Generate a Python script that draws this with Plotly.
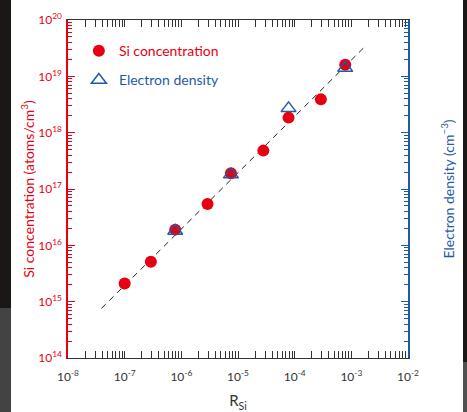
import plotly.graph_objects as go

# ---- data ----
si_x = [1.0e-7, 2.9e-7, 7.8e-7, 2.9e-6, 7.5e-6, 2.8e-5, 7.8e-5, 2.9e-4, 7.8e-4]
si_y = [2.1e15, 5.1e15, 1.9e16, 5.4e16, 1.9e17, 4.8e17, 1.85e18, 3.9e18, 1.6e19]

ne_x = [7.8e-7, 7.5e-6, 7.8e-5, 7.8e-4]
ne_y = [1.8e16, 1.8e17, 2.7e18, 1.4e19]

fit_x = [3.9e-8, 1.75e-3]
fit_y = [7.6e14, 3.4e19]

x_tickvals = [1e-8, 1e-7, 1e-6, 1e-5, 1e-4, 1e-3, 1e-2]
x_ticktext = ["10<sup>-8</sup>", "10<sup>-7</sup>", "10<sup>-6</sup>", "10<sup>-5</sup>",
              "10<sup>-4</sup>", "10<sup>-3</sup>", "10<sup>-2</sup>"]
y_tickvals = [1e14, 1e15, 1e16, 1e17, 1e18, 1e19, 1e20]
y_ticktext = ["10<sup>14</sup>", "10<sup>15</sup>", "10<sup>16</sup>", "10<sup>17</sup>",
              "10<sup>18</sup>", "10<sup>19</sup>", "10<sup>20</sup>"]

RED = "#e60012"
BLUE = "#1f5aa6"
GREY = "#333333"
FONT = "Lato"

x_minor = [k * 10.0 ** n for n in range(-8, -2) for k in range(2, 10)]
y_minor = [k * 10.0 ** n for n in range(14, 20) for k in range(2, 10)]

fig = go.Figure()
fig.add_trace(go.Scatter(
    x=fit_x, y=fit_y, mode="lines", showlegend=False,
    line=dict(color="#222222", width=1, dash="6px,5px"), hoverinfo="skip"))
fig.add_trace(go.Scatter(
    x=si_x, y=si_y, mode="markers",
    name=f"<span style='color:{RED}'>Si concentration</span>",
    legendgroup="a",
    marker=dict(symbol="circle", size=12, color=RED)))
fig.add_trace(go.Scatter(
    x=ne_x, y=ne_y, mode="markers", yaxis="y2",
    name=f"<span style='color:{BLUE}'>Electron density</span>",
    legendgroup="b",
    marker=dict(symbol="triangle-up-open", size=13, color=BLUE,
                line=dict(width=1.5, color=BLUE))))

fig.update_layout(
    width=467, height=412,
    margin=dict(l=68, r=59, t=20, b=54, autoexpand=False),
    paper_bgcolor="white", plot_bgcolor="white",
    font=dict(family=FONT, size=12, color=GREY),
    showlegend=True,
    legend=dict(x=0.032, y=0.955, xanchor="left", yanchor="top",
                bgcolor="rgba(0,0,0,0)", font=dict(size=14, family=FONT),
                tracegroupgap=8, itemwidth=30),
    xaxis=dict(
        type="log", range=[-8, -2], showgrid=False, zeroline=False, automargin=False,
        showline=True, linecolor=GREY, linewidth=1, mirror="allticks",
        ticks="inside", ticklen=7, tickwidth=1, tickcolor=GREY,
        tickmode="array", tickvals=x_tickvals, ticktext=x_ticktext,
        ticklabelstandoff=8,
        tickfont=dict(size=12, color=GREY, family=FONT),
        minor=dict(tickmode="array", tickvals=x_minor, ticks="inside",
                   ticklen=4, tickwidth=1, tickcolor=GREY, showgrid=False),
        title=dict(text="R<sub>Si</sub>", font=dict(size=15, color=GREY, family=FONT),
                   standoff=12),
    ),
    yaxis=dict(
        type="log", range=[14, 20], showgrid=False, zeroline=False, automargin=False,
        showline=True, linecolor=RED, linewidth=1.5,
        ticks="inside", ticklen=7, tickwidth=1, tickcolor=RED,
        tickmode="array", tickvals=y_tickvals, ticktext=y_ticktext,
        ticklabelstandoff=2,
        tickfont=dict(size=12, color=RED, family=FONT),
        minor=dict(tickmode="array", tickvals=y_minor, ticks="inside",
                   ticklen=4, tickwidth=1, tickcolor=RED, showgrid=False),
        title=dict(text="Si concentration (atoms/cm<sup>3</sup>)",
                   font=dict(size=14, color=RED, family=FONT), standoff=0),
    ),
    yaxis2=dict(
        type="log", range=[14, 20], overlaying="y", side="right",
        showgrid=False, zeroline=False, automargin=False,
        showline=True, linecolor=BLUE, linewidth=1.5,
        ticks="inside", ticklen=7, tickwidth=1, tickcolor=BLUE,
        tickmode="array", tickvals=y_tickvals, showticklabels=False,
        minor=dict(tickmode="array", tickvals=y_minor, ticks="inside",
                   ticklen=4, tickwidth=1, tickcolor=BLUE, showgrid=False),
        title=dict(text="Electron density (cm<sup>−3</sup>)",
                   font=dict(size=14, color=BLUE, family=FONT), standoff=35),
    ),
    shapes=[
        # dark slide border strips at the page edges
        dict(type="rect", xref="paper", yref="paper", x0=-0.25, x1=-0.1676,
             y0=0.148, y1=1.1, fillcolor="#1c1717", line=dict(width=0), layer="above"),
        dict(type="rect", xref="paper", yref="paper", x0=-0.25, x1=-0.1676,
             y0=-0.2, y1=0.148, fillcolor="#434343", line=dict(width=0), layer="above"),
        dict(type="rect", xref="paper", yref="paper", x0=1.1618, x1=1.25,
             y0=-0.0118, y1=1.1, fillcolor="#1c1717", line=dict(width=0), layer="above"),
        dict(type="rect", xref="paper", yref="paper", x0=1.1618, x1=1.25,
             y0=-0.2, y1=-0.0118, fillcolor="#505050", line=dict(width=0), layer="above"),
    ],
)

fig.write_html("out.html", config={"displayModeBar": False},
               post_script="document.body.style.margin='0';")
